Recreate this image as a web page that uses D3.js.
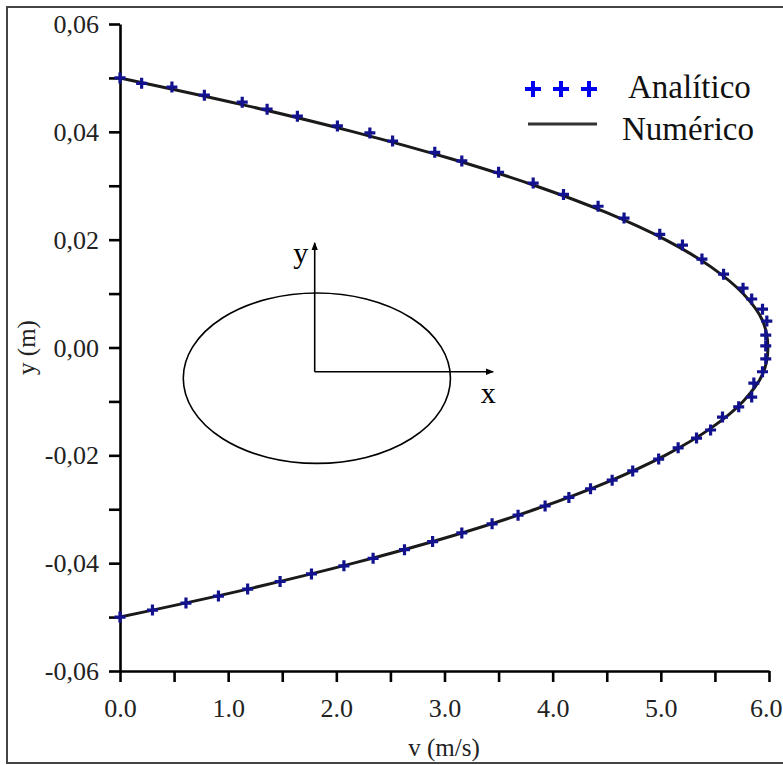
<!DOCTYPE html>
<html>
<head>
<meta charset="utf-8">
<script src="https://cdn.jsdelivr.net/npm/d3@7/dist/d3.min.js"></script>
<style>
  html, body { margin: 0; padding: 0; background: #fff; }
  svg { display: block; font-family: "Liberation Serif", "Times New Roman", serif; }
  .axis path, .axis line { stroke: #000; stroke-width: 2.6px; }
  .axis text { font-family: "Liberation Serif", "Times New Roman", serif; font-size: 26px; fill: #222; }
</style>
</head>
<body>
<svg id="chart" width="783" height="765"></svg>
<script>
// analytic solution markers: [v (m/s), y (m)]
const analitico = [
  [0.00, 0.0500], [0.20, 0.0490], [0.48, 0.0483], [0.78, 0.0468], [1.13, 0.0455],
  [1.36, 0.0442], [1.64, 0.0429], [2.01, 0.0411], [2.31, 0.0398], [2.52, 0.0383],
  [2.91, 0.0362], [3.16, 0.0346], [3.50, 0.0325], [3.82, 0.0305], [4.10, 0.0284],
  [4.42, 0.0262], [4.66, 0.0240], [4.99, 0.0210], [5.20, 0.0190], [5.38, 0.0164],
  [5.58, 0.0136], [5.76, 0.0110], [5.84, 0.0090], [5.94, 0.0071], [5.98, 0.0049],
  [5.97, 0.0023], [5.97, 0.0003], [5.97, -0.0021], [5.94, -0.0045], [5.86, -0.0066],
  [5.84, -0.0092], [5.72, -0.0110], [5.57, -0.0129], [5.46, -0.0153], [5.33, -0.0168],
  [5.16, -0.0186], [4.98, -0.0207], [4.74, -0.0229], [4.55, -0.0246], [4.35, -0.0262],
  [4.15, -0.0278], [3.93, -0.0294], [3.68, -0.0311], [3.44, -0.0327], [3.16, -0.0344],
  [2.89, -0.0360], [2.63, -0.0375], [2.34, -0.0391], [2.07, -0.0405], [1.77, -0.0420],
  [1.48, -0.0434], [1.18, -0.0448], [0.91, -0.0461], [0.61, -0.0474], [0.30, -0.0487],
  [0.00, -0.0500]
];

// numerical solution line: [v (m/s), y (m)]
const numerico = [
  [0.00, 0.0500], [1.14, 0.0450], [2.16, 0.0400], [3.06, 0.0350], [3.84, 0.0300],
  [4.50, 0.0250], [5.04, 0.0200], [5.46, 0.0150], [5.76, 0.0100], [5.94, 0.0050],
  [5.99, 0.0000], [5.94, -0.0050], [5.76, -0.0100], [5.46, -0.0150], [5.04, -0.0200],
  [4.50, -0.0250], [3.84, -0.0300], [3.06, -0.0350], [2.16, -0.0400], [1.14, -0.0450],
  [0.00, -0.0500]
];

const xTicks = [0, 0.5, 1, 1.5, 2, 2.5, 3, 3.5, 4, 4.5, 5, 5.5, 6];
const yTicks = [-0.06, -0.05, -0.04, -0.03, -0.02, -0.01, 0, 0.01, 0.02, 0.03, 0.04, 0.05, 0.06];
const xLabel = "v (m/s)";
const yLabel = "y (m)";
const legendItems = ["Analítico", "Numérico"];

// inset sketch of the duct section, in data units
const inset = { cx: 1.82, cy: -0.0057, rx: 1.235, ry: 0.0158, origin: [1.80, -0.0045], xEnd: 3.45, yEnd: 0.0194 };

const svg = d3.select("#chart");
const x = d3.scaleLinear().domain([0, 6]).range([120, 769]);
const y = d3.scaleLinear().domain([-0.06, 0.06]).range([671, 24]);

// outer frame
svg.append("rect")
  .attr("x", 7).attr("y", 7).attr("width", 800).attr("height", 756)
  .attr("fill", "none").attr("stroke", "#444").attr("stroke-width", 2);

// inset: ellipse with coordinate arrows
const defs = svg.append("defs");
defs.append("marker")
  .attr("id", "arrow").attr("viewBox", "0 0 10 10")
  .attr("refX", 9).attr("refY", 5)
  .attr("markerWidth", 8).attr("markerHeight", 8)
  .attr("markerUnits", "userSpaceOnUse")
  .attr("orient", "auto")
  .append("path").attr("d", "M0,1 L10,5 L0,9 Z").attr("fill", "#000");

const insetG = svg.append("g");
insetG.append("ellipse")
  .attr("cx", x(inset.cx)).attr("cy", y(inset.cy))
  .attr("rx", x(inset.cx + inset.rx) - x(inset.cx))
  .attr("ry", y(inset.cy) - y(inset.cy + inset.ry))
  .attr("fill", "none").attr("stroke", "#000").attr("stroke-width", 1.6);
insetG.append("line")
  .attr("x1", x(inset.origin[0])).attr("y1", y(inset.origin[1]))
  .attr("x2", x(inset.origin[0])).attr("y2", y(inset.yEnd))
  .attr("stroke", "#000").attr("stroke-width", 1.6).attr("marker-end", "url(#arrow)");
insetG.append("line")
  .attr("x1", x(inset.origin[0])).attr("y1", y(inset.origin[1]))
  .attr("x2", x(inset.xEnd)).attr("y2", y(inset.origin[1]))
  .attr("stroke", "#000").attr("stroke-width", 1.6).attr("marker-end", "url(#arrow)");
insetG.append("text")
  .attr("x", x(inset.origin[0]) - 14).attr("y", y(inset.yEnd) + 20)
  .attr("text-anchor", "middle").attr("font-size", 30).text("y");
insetG.append("text")
  .attr("x", x(inset.xEnd) - 5).attr("y", y(inset.origin[1]) + 31)
  .attr("text-anchor", "middle").attr("font-size", 30).text("x");

// axes
const fmtY = (d) => {
  const k = Math.round(d * 100);
  if (k % 2 !== 0) return "";
  return d3.format(".2f")(d).replace(".", ",").replace("−", "-");
};
const fmtX = (d) => (Number.isInteger(d) ? d3.format(".1f")(d) : "");

const xAxis = svg.append("g").attr("class", "axis")
  .attr("transform", `translate(0,${y(-0.06)})`)
  .call(d3.axisBottom(x).tickValues(xTicks).tickSize(11).tickSizeOuter(0).tickFormat(fmtX));
xAxis.selectAll("text").attr("dy", 0).attr("y", 46);
// keep the last label inside the picture
xAxis.selectAll(".tick").filter((d) => d === 6).select("text").attr("text-anchor", "end").attr("x", 13);

const yAxis = svg.append("g").attr("class", "axis")
  .attr("transform", `translate(${x(0)},0)`)
  .call(d3.axisLeft(y).tickValues(yTicks).tickSize(11).tickSizeOuter(0).tickFormat(fmtY));
yAxis.selectAll("text").attr("x", -21).attr("dy", "0.33em");

svg.append("text")
  .attr("x", 444).attr("y", 756)
  .attr("text-anchor", "middle").attr("font-size", 25).attr("fill", "#222")
  .text(xLabel);
svg.append("text")
  .attr("transform", `translate(35,${y(0)}) rotate(-90)`)
  .attr("text-anchor", "middle").attr("font-size", 25).attr("fill", "#222")
  .text(yLabel);

// numerical line
const line = d3.line()
  .x((d) => x(d[0]))
  .y((d) => y(d[1]))
  .curve(d3.curveCatmullRom);
svg.append("path")
  .datum(numerico)
  .attr("d", line)
  .attr("fill", "none").attr("stroke", "#1a1a1a").attr("stroke-width", 3);

// analytic markers
const plus = (s) => `M${-s},0H${s}M0,${-s}V${s}`;
svg.append("g")
  .selectAll("path")
  .data(analitico)
  .join("path")
  .attr("transform", (d) => `translate(${x(d[0])},${y(d[1])})`)
  .attr("d", plus(5.5))
  .attr("stroke", "#12128f").attr("stroke-width", 3.2).attr("fill", "none");

// legend
const legend = svg.append("g");
[533, 561, 589].forEach((cx) => {
  legend.append("path")
    .attr("transform", `translate(${cx},89)`)
    .attr("d", plus(8))
    .attr("stroke", "#0000f0").attr("stroke-width", 4).attr("fill", "none");
});
legend.append("line")
  .attr("x1", 528).attr("x2", 597).attr("y1", 124).attr("y2", 124)
  .attr("stroke", "#333").attr("stroke-width", 3);
legend.append("text")
  .attr("x", 628).attr("y", 98).attr("font-size", 33).attr("fill", "#111")
  .text(legendItems[0]);
legend.append("text")
  .attr("x", 622).attr("y", 140).attr("font-size", 33).attr("fill", "#111")
  .text(legendItems[1]);
</script>
</body>
</html>
